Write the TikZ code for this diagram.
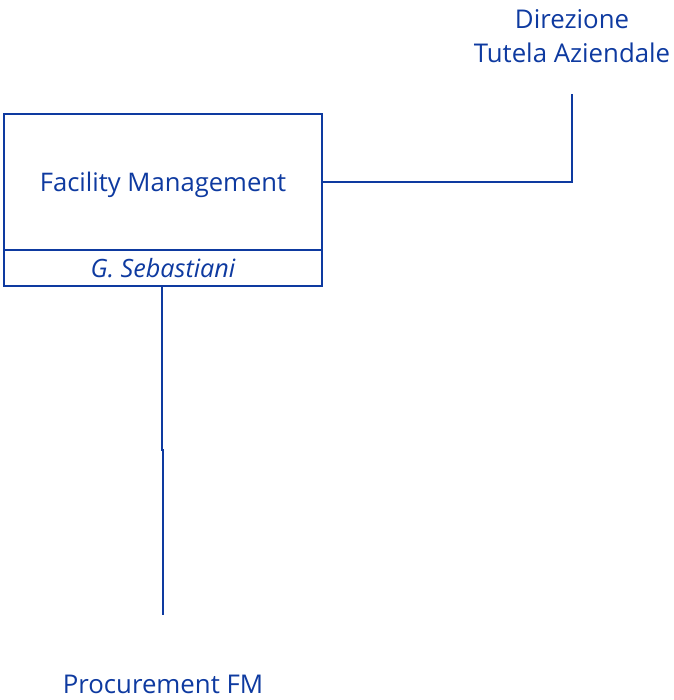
\documentclass[tikz,border=0pt]{standalone}
\usepackage{fontspec}
\setmainfont{Open Sans}
\usetikzlibrary{positioning}
\definecolor{orgblue}{RGB}{14,58,160}

\begin{document}
\begin{tikzpicture}[x=1pt,y=-1pt]
	\newcommand\boxw{318pt}
	\newcommand\headh{136pt}
	\newcommand\nameh{36pt}
	\tikzset{
		unit/.style={draw=orgblue, line width=2.4pt, minimum width=\boxw, inner sep=0pt, outer sep=0pt, text=orgblue},
		link/.style={draw=orgblue, line width=1.5pt},
		orglabel/.style={text=orgblue, align=center, inner sep=0pt, font=\fontsize{25.8}{34}\selectfont},
	}
	\useasboundingbox (0,0) rectangle (673,700);
	% main unit with its head
	\node [unit, minimum height=\headh, text depth=0pt, font=\fontsize{25.6}{28}\selectfont] (fm) at (163,182) {Facility Management};
	\node [unit, minimum height=\nameh, below=0pt of fm, font=\itshape\fontsize{25.2}{26}\selectfont] (head) {G. Sebastiani};
	% upper and lower units
	\node [orglabel] (dta) at (572,36) {Direzione\\Tutela Aziendale};
	\node [orglabel] (pfm) at (163,684) {Procurement FM};
	% line ends
	\coordinate (dta-end) at (572,94);
	\coordinate (pfm-mid) at (163,450);
	\coordinate (pfm-end) at (163,615);
	% connectors
	\draw [link] (fm.east) -| (dta-end);
	\draw [link] (head.south -| 162,0) |- (pfm-mid) -- (pfm-end);
\end{tikzpicture}
\end{document}
